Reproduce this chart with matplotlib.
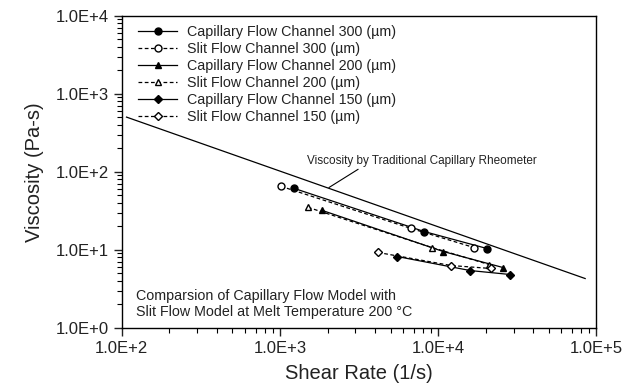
import matplotlib
matplotlib.use("Agg")
import matplotlib.pyplot as plt
from matplotlib.ticker import LogLocator, NullFormatter, FixedLocator

plt.rcParams['font.family'] = ['Liberation Sans', 'DejaVu Sans']

# Data (shear rate 1/s, viscosity Pa-s)
cap300_x = [1227, 8150, 20400]
cap300_y = [61.5, 17.2, 10.4]
slit300_x = [1014, 6750, 16900]
slit300_y = [65.3, 18.8, 10.7]
cap200_x = [1845, 10770, 25700]
cap200_y = [32.1, 9.53, 5.94]
slit200_x = [1503, 9160, 21000]
slit200_y = [35.1, 10.7, 6.49]
cap150_x = [5510, 15960, 28600]
cap150_y = [8.22, 5.43, 4.83]
slit150_x = [4170, 12080, 21600]
slit150_y = [9.26, 6.30, 5.77]
ref_x = [107, 85100]
ref_y = [504, 4.29]

xticks = [1e2, 1e3, 1e4, 1e5]
xticklabels = ["1.0E+2", "1.0E+3", "1.0E+4", "1.0E+5"]
yticks = [1e0, 1e1, 1e2, 1e3, 1e4]
yticklabels = ["1.0E+0", "1.0E+1", "1.0E+2", "1.0E+3", "1.0E+4"]

fig = plt.figure(figsize=(6.25, 3.88), dpi=100)
ax = fig.add_axes([0.195, 0.155, 0.759, 0.804])
ax.set_xscale('log')
ax.set_yscale('log')
ax.set_xlim(1e2, 1e5)
ax.set_ylim(1e0, 1e4)

lw = 0.9
ax.plot(cap300_x, cap300_y, '-', color='k', lw=lw, marker='o', ms=5, mfc='k',
        label='Capillary Flow Channel 300 (\u00b5m)')
ax.plot(slit300_x, slit300_y, '--', color='k', lw=lw, dashes=(3, 2), marker='o', ms=5,
        mfc='white', mew=1.0, label='Slit Flow Channel 300 (\u00b5m)')
ax.plot(cap200_x, cap200_y, '-', color='k', lw=lw, marker='^', ms=5, mfc='k',
        label='Capillary Flow Channel 200 (\u00b5m)')
ax.plot(slit200_x, slit200_y, '--', color='k', lw=lw, dashes=(3, 2), marker='^', ms=5,
        mfc='white', mew=1.0, label='Slit Flow Channel 200 (\u00b5m)')
ax.plot(cap150_x, cap150_y, '-', color='k', lw=lw, marker='D', ms=4, mfc='k',
        label='Capillary Flow Channel 150 (\u00b5m)')
ax.plot(slit150_x, slit150_y, '--', color='k', lw=lw, dashes=(3, 2), marker='D', ms=4,
        mfc='white', mew=1.0, label='Slit Flow Channel 150 (\u00b5m)')
ax.plot(ref_x, ref_y, '-', color='k', lw=0.9)

# annotation for the reference line
ax.text(7930, 116, 'Viscosity by Traditional Capillary Rheometer',
        fontsize=8.5, color='#222222', ha='center', va='bottom')
ax.annotate('', xy=(2040, 63), xytext=(3120, 108),
            arrowprops=dict(arrowstyle='-', color='k', lw=0.8, shrinkA=0, shrinkB=0))

ax.text(0.03, 0.03, 'Comparsion of Capillary Flow Model with\nSlit Flow Model at Melt Temperature 200 \u00b0C',
        transform=ax.transAxes, fontsize=10.3, color='#222222', ha='left', va='bottom',
        linespacing=1.1)

leg = ax.legend(loc='upper left', bbox_to_anchor=(0.035, 0.97), frameon=False,
                fontsize=10.3, handlelength=2.7, handletextpad=0.7,
                labelspacing=0.2, borderaxespad=0, borderpad=0)
for t in leg.get_texts():
    t.set_color('#222222')

ax.xaxis.set_major_locator(FixedLocator(xticks))
ax.set_xticklabels(xticklabels)
ax.yaxis.set_major_locator(FixedLocator(yticks))
ax.set_yticklabels(yticklabels)
ax.xaxis.set_minor_locator(LogLocator(base=10, subs=range(2, 10)))
ax.yaxis.set_minor_locator(LogLocator(base=10, subs=range(2, 10)))
ax.xaxis.set_minor_formatter(NullFormatter())
ax.yaxis.set_minor_formatter(NullFormatter())
ax.tick_params(which='major', length=6, width=1, labelsize=12, colors='#222222')
ax.tick_params(which='minor', length=3.5, width=0.8)
for s in ax.spines.values():
    s.set_linewidth(1.0)

ax.set_xlabel('Shear Rate (1/s)', fontsize=14.5, color='#222222', labelpad=6)
ax.set_ylabel('Viscosity (Pa-s)', fontsize=14.5, color='#222222', labelpad=8)

fig.savefig('out.png', dpi=100)
